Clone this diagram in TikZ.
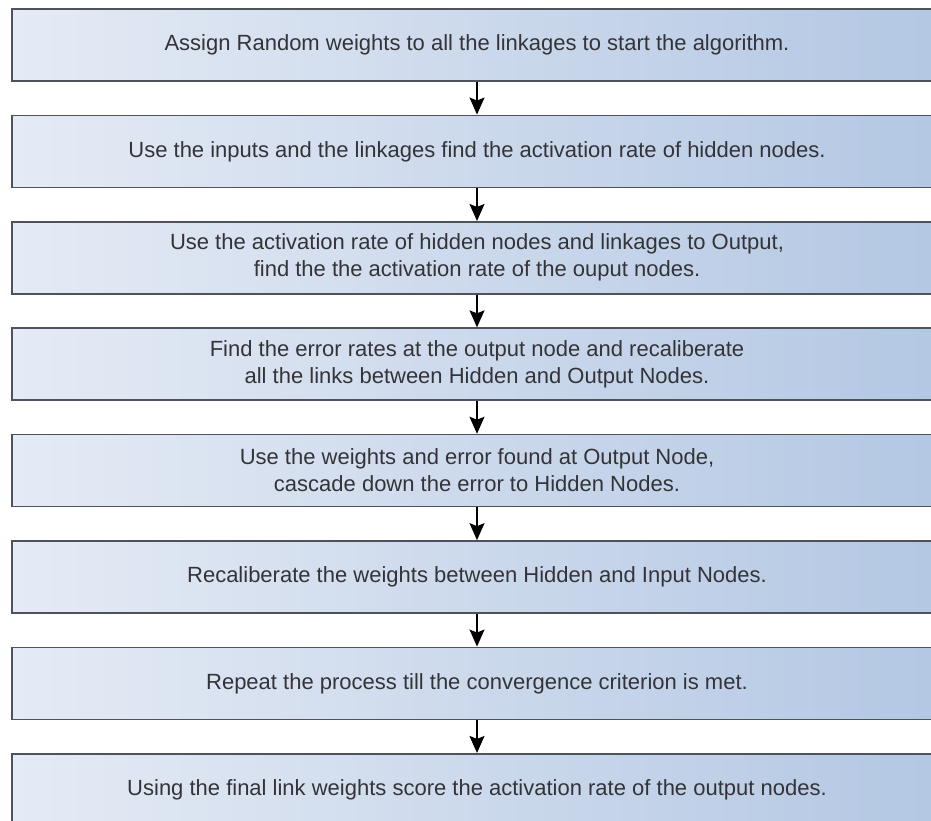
\documentclass[tikz,border=0pt]{standalone}
\usepackage{fontspec}
\setmainfont{Liberation Sans}
\usetikzlibrary{arrows.meta}
\definecolor{boxleft}{RGB}{229,235,245}
\definecolor{boxright}{RGB}{179,199,227}
\definecolor{boxline}{RGB}{78,82,90}
\definecolor{boxtext}{RGB}{52,52,56}
\tikzset{
  stepbox/.style={draw=boxline, line width=1.7pt, left color=boxleft, right color=boxright,
    minimum width=930pt, minimum height=72pt, inner sep=0pt, align=center,
    text=boxtext, font=\fontsize{22}{27}\selectfont},
  flow/.style={line width=1.5pt, -{Stealth[length=17pt,width=15pt,inset=3pt]}}
}

\begin{document}
\begin{tikzpicture}[x=1pt,y=-1pt]
			%%%%% START %%%%%
			\useasboundingbox (0,0) rectangle (931,821);
			\clip (0,0) rectangle (931,821);
			
			\node[stepbox] (s1) at (477, 45.0) {Assign Random weights to all the linkages to start the algorithm.};
			\node[stepbox] (s2) at (477, 151.4) {Use the inputs and the linkages find the activation rate of hidden nodes.};
			\node[stepbox] (s3) at (477, 257.8) {Use the activation rate of hidden nodes and linkages to Output,\\ find the the activation rate of the ouput nodes.};
			\node[stepbox] (s4) at (477, 364.2) {Find the error rates at the output node and recaliberate\\ all the links between Hidden and Output Nodes.};
			\node[stepbox] (s5) at (477, 470.6) {Use the weights and error found at Output Node,\\ cascade down the error to Hidden Nodes.};
			\node[stepbox] (s6) at (477, 577.0) {Recaliberate the weights between Hidden and Input Nodes.};
			\node[stepbox] (s7) at (477, 683.4) {Repeat the process till the convergence criterion is met.};
			\node[stepbox] (s8) at (477, 789.8) {Using the final link weights score the activation rate of the output nodes.};
			
			\draw[flow] (s1) -- (s2);
			\draw[flow] (s2) -- (s3);
			\draw[flow] (s3) -- (s4);
			\draw[flow] (s4) -- (s5);
			\draw[flow] (s5) -- (s6);
			\draw[flow] (s6) -- (s7);
			\draw[flow] (s7) -- (s8);
			
			%%%%% END %%%%%
\end{tikzpicture}
\end{document}
